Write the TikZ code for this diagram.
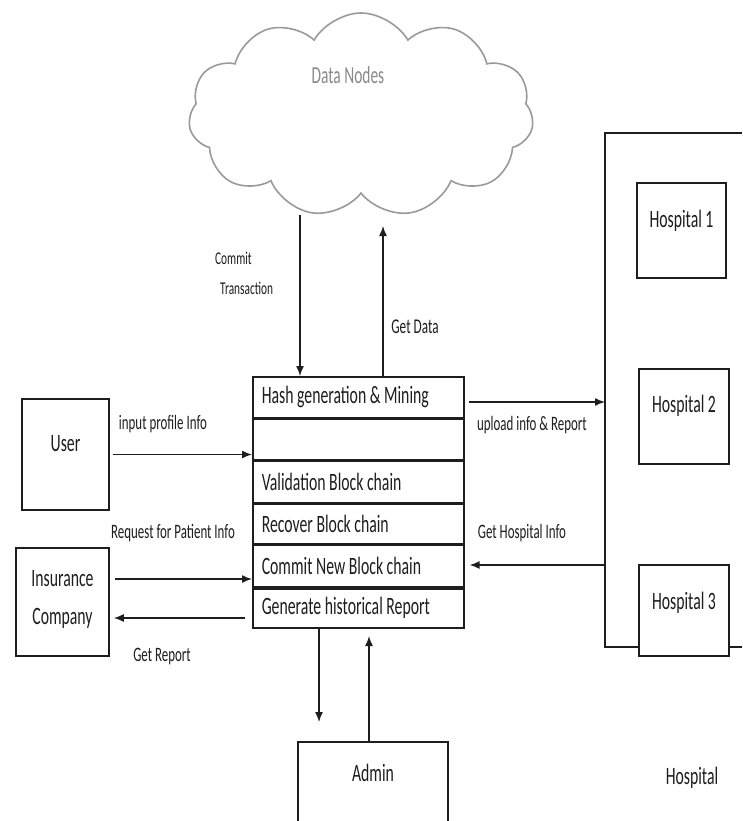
\documentclass[tikz,border=0pt]{standalone}
\usepackage{fontspec}
\setmainfont{Carlito}[FakeStretch=0.63]
\usetikzlibrary{shapes.symbols,arrows.meta}
\definecolor{ink}{HTML}{1E1E1E}
\definecolor{cloudline}{HTML}{9A9A9A}
\definecolor{cloudtext}{HTML}{8A8A8A}

\begin{document}
\begin{tikzpicture}[x=1pt,y=-1pt,
  box/.style={draw=ink, line width=1.6pt, fill=white, inner sep=0pt},
  stackrow/.style={box, minimum width=211pt, text width=193pt, inner xsep=9pt,
    align=flush left, anchor=north west, text=ink, font=\fontsize{25}{28}\selectfont},
  enttext/.style={text=ink, align=center, font=\fontsize{25}{38}\selectfont, inner sep=0pt},
  lbl/.style={text=ink, inner sep=0pt, font=\fontsize{20.5}{24}\selectfont},
  arr/.style={draw=ink, line width=1.4pt, -{Latex[length=10pt,width=8pt]}},
]
\useasboundingbox[fill=white] (0,0) rectangle (742,821);

% distributed storage
\node[cloud, cloud puffs=11, cloud puff arc=120, aspect=1.7, draw=cloudline,
      line width=1.6pt, minimum width=345pt, minimum height=204pt, inner sep=0pt]
      (datanodes) at (361,115) {};
\node[text=cloudtext, inner sep=0pt, font=\fontsize{24.5}{28}\selectfont]
      (datalabel) at (348,75) {Data Nodes};

% block chain process stack
\node[stackrow, minimum height=41pt] (r1) at (252,376) {Hash generation \& Mining};
\node[stackrow, minimum height=40pt] (r2) at (r1.south west) {};
\node[stackrow, minimum height=42pt] (r3) at (r2.south west) {Validation Block chain};
\node[stackrow, minimum height=39pt] (r4) at (r3.south west) {Recover Block chain};
\node[stackrow, minimum height=42pt] (r5) at (r4.south west) {Commit New Block chain};
\node[stackrow, minimum height=39pt] (r6) at (r5.south west) {Generate historical Report};

% external entities
\node[box, minimum width=87pt, minimum height=111pt] (user) at (65.5,454.5) {};
\node[enttext] (usert) at ([yshift=11pt]user.center) {User};
\node[box, minimum width=93pt, minimum height=108pt] (ins) at (62.5,602) {};
\node[enttext] (inst) at ([yshift=3pt]ins.center) {Insurance\\Company};
\node[draw=none, minimum width=150pt, minimum height=79pt, inner sep=0pt] (admin) at (373,781.5) {};
\draw[ink, line width=1.6pt] (admin.south west) -- (admin.north west) -- (admin.north east) -- (admin.south east);
\node[enttext] (admint) at (373,773) {Admin};

% hospital group
\coordinate (gtl) at (605,133);
\coordinate (gbl) at (605,647);
\draw[ink, line width=1.6pt] (742,133) -- (gtl) -- (gbl) -- (742,647);
\node[box, minimum width=89pt, minimum height=95pt] (h1) at (681.5,230.5) {};
\node[enttext] (h1t) at ([yshift=10pt]h1.center) {Hospital 1};
\node[box, minimum width=90pt, minimum height=95pt] (h2) at (684,416.5) {};
\node[enttext] (h2t) at ([yshift=11pt]h2.center) {Hospital 2};
\node[box, minimum width=90pt, minimum height=91pt] (h3) at (684,610.5) {};
\node[enttext] (h3t) at ([yshift=8pt]h3.center) {Hospital 3};
\node[enttext] (hgroupt) at (692,778) {Hospital};

% flows between cloud and stack
\coordinate (ct) at (300,215);
\draw[arr] (ct) -- (ct |- r1.north);
\coordinate (gd) at (383,226);
\draw[arr] (r1.north -| gd) -- (gd);
\node[lbl, align=flush left, anchor=west, font=\fontsize{18}{30}\selectfont] (ctl) at (215,273) {Commit\\\hspace*{5pt}Transaction};
\node[lbl, font=\fontsize{21}{24}\selectfont] (gdl) at (415,327) {Get Data};

% flows with user and insurance company
\draw[arr, shorten <=3pt] (user.east) -- (user.east -| r2.west);
\node[lbl] (ipl) at (163,424) {input profile Info};
\coordinate (ri) at (109,579);
\draw[arr, shorten <=6pt] (ri) -- (ri -| r5.west);
\node[lbl] (rpl) at (173,533) {Request for Patient Info};
\coordinate (go) at (245,618);
\draw[arr, shorten >=4pt] (go) -- (go -| ins.east);
\node[lbl] (grl) at (162,656) {Get Report};

% flows with hospitals
\coordinate (upl) at (605,402);
\draw[arr, shorten <=4pt] (upl -| r1.east) -- (upl);
\node[lbl] (upll) at (532,425) {upload info \& Report};
\coordinate (ghi) at (605,565);
\draw[arr, shorten >=5pt] (ghi) -- (ghi -| r5.east);
\node[lbl] (ghil) at (522,533) {Get Hospital Info};

% flows with admin
\coordinate (adown) at (319,722);
\draw[arr] (r6.south -| adown) -- (adown);
\coordinate (aup) at (369,636);
\draw[arr] (admin.north -| aup) -- (aup);
\end{tikzpicture}
\end{document}
